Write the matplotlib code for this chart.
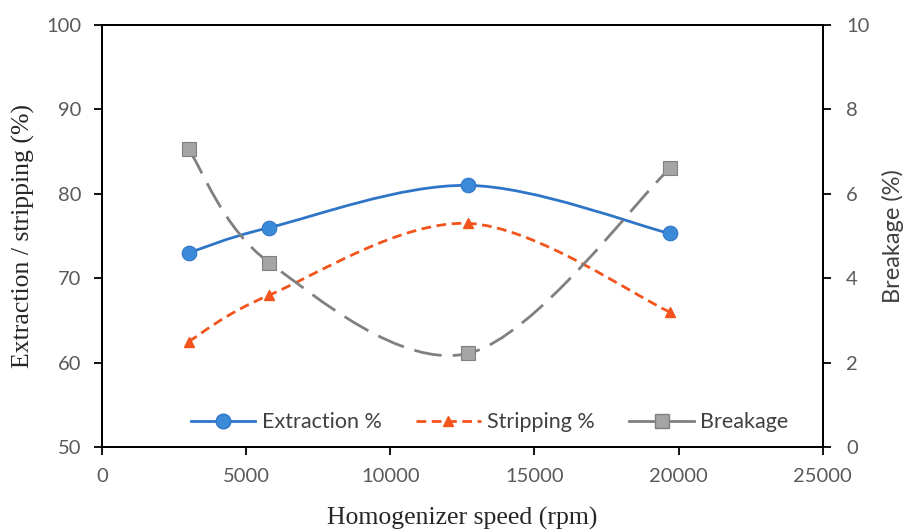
import numpy as np
import matplotlib.pyplot as plt
from matplotlib.path import Path
from matplotlib.patches import PathPatch
from matplotlib.lines import Line2D

speed = [3000, 5800, 12700, 19700]
extraction = [73.0, 76.0, 81.0, 75.3]
stripping = [62.5, 68.0, 76.5, 66.0]
breakage = [7.06, 4.37, 2.22, 6.6]

blue = "#2E75C8"
blue_m = "#3A8AD8"
orange = "#F2541B"
gray = "#808080"
gray_m = "#A5A5A5"
txt = "#595959"
sans = ["Lato", "DejaVu Sans"]
serif = ["Liberation Serif", "DejaVu Serif"]


def smooth_path(x, y):
    # Excel-like smoothed line: Catmull-Rom converted to cubic Bezier segments
    p = np.column_stack([x, y]).astype(float)
    ext = np.vstack([p[0], p, p[-1]])
    verts = [p[0]]
    codes = [Path.MOVETO]
    for i in range(len(p) - 1):
        p0, p1, p2, p3 = ext[i], ext[i + 1], ext[i + 2], ext[i + 3]
        c1 = p1 + (p2 - p0) / 6
        c2 = p2 - (p3 - p1) / 6
        verts += [c1, c2, p2]
        codes += [Path.CURVE4] * 3
    return Path(verts, codes)


fig, ax = plt.subplots(figsize=(9.07, 5.31), dpi=100)
fig.subplots_adjust(left=0.1125, right=0.907, bottom=0.158, top=0.953)
ax2 = ax.twinx()

lw = 2.0
ax.add_patch(PathPatch(smooth_path(speed, extraction), fill=False, edgecolor=blue, lw=lw, zorder=3))
ax.add_patch(PathPatch(smooth_path(speed, stripping), fill=False, edgecolor=orange, lw=lw,
                       linestyle=(0, (3.5, 2)), zorder=3))
ax2.add_patch(PathPatch(smooth_path(speed, breakage), fill=False, edgecolor=gray, lw=lw,
                        linestyle=(0, (10, 4)), zorder=2))

ax.plot(speed, extraction, ls="none", marker="o", ms=10.5, mfc=blue_m, mec=blue, mew=0.8, zorder=4)
ax.plot(speed, stripping, ls="none", marker="^", ms=7.5, mfc=orange, mec=orange, zorder=4)
ax2.plot(speed, breakage, ls="none", marker="s", ms=10, mfc=gray_m, mec=gray, mew=0.8, zorder=4)

ax.set_xlim(0, 25000)
ax.set_ylim(50, 100)
ax2.set_ylim(0, 10)
ax.set_xticks(range(0, 25001, 5000))
ax.set_yticks(range(50, 101, 10))
ax2.set_yticks(range(0, 11, 2))

for a in (ax, ax2):
    for s in a.spines.values():
        s.set_linewidth(1.3)
        s.set_color("black")
    a.tick_params(direction="out", length=6, width=1.3, colors="black", labelcolor=txt, labelsize=14.5)
    for lab in a.get_xticklabels() + a.get_yticklabels():
        lab.set_family(sans)
ax.tick_params(axis="x", pad=9)
ax.tick_params(axis="y", pad=9)
ax2.tick_params(axis="y", pad=11)

ax.set_xlabel("Homogenizer speed (rpm)", family=serif, fontsize=18.5, color="#262626")
ax.set_ylabel("Extraction / stripping (%)", family=serif, fontsize=18.5, color="#262626")
ax2.set_ylabel("Breakage (%)", family=sans, fontsize=17, color="#404040")
ax.xaxis.set_label_coords(0.5, -0.142)
ax.yaxis.set_label_coords(-0.093, 0.5)
ax2.yaxis.set_label_coords(1.082, 0.5)

handles = [
    Line2D([], [], color=blue, lw=lw, marker="o", ms=10.5, mfc=blue_m, mec=blue),
    Line2D([], [], color=orange, lw=lw, ls=(0, (3.5, 2)), marker="^", ms=7.5, mfc=orange, mec=orange),
    Line2D([], [], color=gray, lw=lw, marker="s", ms=10, mfc=gray_m, mec=gray),
]
leg = ax.legend(handles, ["Extraction %", "Stripping %", "Breakage"], loc="center",
                bbox_to_anchor=(0.538, 0.059), ncol=3, frameon=False, handlelength=3.0,
                columnspacing=1.6, handletextpad=0.3, borderpad=0,
                prop={"family": sans, "size": 15.5})
for t in leg.get_texts():
    t.set_color("#404040")

fig.savefig("out.png", dpi=100)
